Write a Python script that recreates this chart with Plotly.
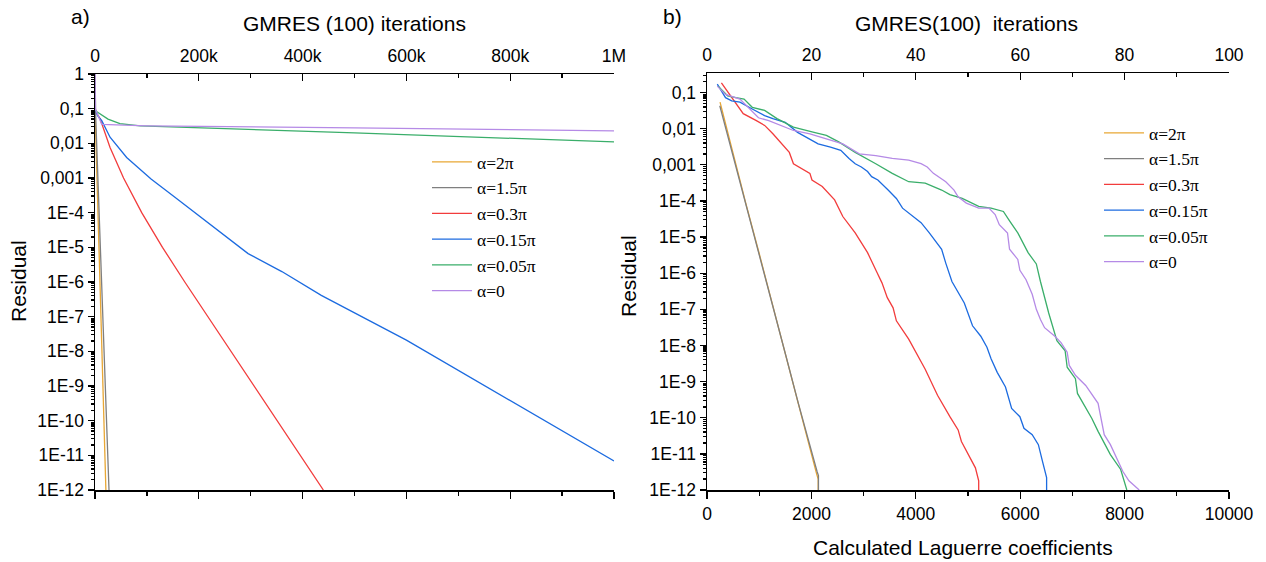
import plotly.graph_objects as go

# ---------------- data: panel a) (GMRES(100) iterations vs residual) ----------------
a_2pi_x = [0, 21000]
a_2pi_y = [0.1, 1e-12]
a_15pi_x = [0, 1500, 27000]
a_15pi_y = [1.0, 0.05, 1e-12]
a_03pi_x = [0, 4000, 10000, 20000, 29000, 55000, 90000, 130000, 173000, 440000]
a_03pi_y = [0.1, 0.071, 0.05, 0.018, 7.6e-3, 1e-3, 1e-4, 1e-5, 1e-6, 1e-12]
a_015pi_x = [0, 5000, 13000, 29000, 61000, 108000, 154000, 224000, 295000, 360000, 436000, 600000, 1000000]
a_015pi_y = [0.1, 0.063, 0.045, 0.015, 3.9e-3, 9.3e-4, 2.8e-4, 4.3e-5, 6.6e-6, 2.0e-6, 4.1e-7, 2.1e-8, 6.9e-12]
a_005pi_x = [0, 10000, 25000, 48000, 87000, 500000, 1000000]
a_005pi_y = [0.089, 0.069, 0.05, 0.037, 0.032, 0.02, 0.011]
a_0_x = [0, 500, 13000, 100000, 500000, 1000000]
a_0_y = [1.0, 0.1, 0.035, 0.032, 0.028, 0.023]

# ---------------- data: panel b) (Laguerre coefficients vs residual) ----------------
b_2pi_x = [250, 500, 750, 1000, 1250, 1500, 1750, 2000, 2100, 2130, 2130]
b_2pi_y = [0.054, 2.0e-3, 7.9e-5, 3.5e-6, 1.4e-7, 5.6e-9, 2.2e-10, 1e-11, 2.8e-12, 2.0e-12, 1e-12]
b_15pi_x = [245, 500, 750, 1000, 1250, 1500, 1750, 2000, 2110, 2135, 2135]
b_15pi_y = [0.043, 1.8e-3, 7.1e-5, 3.2e-6, 1.4e-7, 6.0e-9, 2.5e-10, 1.1e-11, 3.2e-12, 2.5e-12, 1e-12]
b_03pi_x = [276, 473, 694, 946, 1104, 1262, 1380, 1577, 1656, 1814, 1971, 2011, 2208, 2445, 2602,
            2839, 3076, 3250, 3352, 3454, 3565, 3628, 3864, 4180, 4416, 4653, 4811, 4874, 5008,
            5142, 5205, 5205]
b_03pi_y = [0.186, 0.072, 0.026, 0.0166, 0.0123, 0.0072, 0.0047, 0.0022, 0.00107, 7.9e-4, 5.8e-4,
            3.8e-4, 2.5e-4, 1.07e-4, 3.7e-5, 1.3e-5, 3.7e-6, 1.1e-6, 5.4e-7, 2.1e-7, 1.1e-7, 4.8e-8,
            1.5e-8, 2.2e-9, 4.2e-10, 1.07e-10, 4.6e-11, 2.2e-11, 9.5e-12, 4.1e-12, 1.8e-12, 1e-12]
b_015pi_x = [197, 355, 473, 631, 867, 1104, 1262, 1498, 1735, 1971, 2129, 2366, 2563, 2721, 2839,
             2957, 3076, 3154, 3273, 3470, 3628, 3746, 3943, 4101, 4259, 4495, 4574, 4653, 4692,
             4929, 4969, 5087, 5245, 5363, 5442, 5560, 5718, 5836, 5994, 6072, 6230, 6348, 6427,
             6506, 6506]
b_015pi_y = [0.17, 0.072, 0.059, 0.054, 0.035, 0.023, 0.019, 0.015, 0.0079, 0.0052, 0.0038, 0.0031,
             0.0025, 0.0015, 0.00107, 8.7e-4, 6.5e-4, 4.7e-4, 3.8e-4, 2.0e-4, 1.17e-4, 6.3e-5,
             3.7e-5, 2.5e-5, 1.3e-5, 4.6e-6, 1.9e-6, 9.3e-7, 5.9e-7, 1.5e-7, 1.0e-7, 3.5e-8,
             1.8e-8, 8.9e-9, 4.3e-9, 1.8e-9, 7.1e-10, 1.8e-10, 1.07e-10, 5.1e-11, 3.4e-11,
             1.8e-11, 6.2e-12, 2.2e-12, 1e-12]
b_005pi_x = [213, 394, 552, 710, 867, 1104, 1341, 1656, 2050, 2287, 2524, 2839, 3233, 3549, 3864,
             4180, 4495, 4653, 4889, 5205, 5442, 5678, 5796, 5954, 6151, 6309, 6388, 6546, 6703,
             6861, 6900, 7058, 7097, 7373, 7492, 7728, 7925, 8043]
b_005pi_y = [0.15, 0.081, 0.072, 0.066, 0.039, 0.032, 0.019, 0.011, 0.0079, 0.0065, 0.0043, 0.0022,
             0.00107, 5.8e-4, 3.4e-4, 3.1e-4, 2.0e-4, 1.5e-4, 1.17e-4, 7.1e-5, 6.3e-5, 5.1e-5,
             2.8e-5, 1.3e-5, 3.7e-6, 1.8e-6, 5.9e-7, 7.9e-8, 1.35e-8, 7.1e-9, 2.5e-9, 1.2e-9,
             4.7e-10, 9.5e-11, 4.2e-11, 9.5e-12, 3.7e-12, 1e-12]
b_0_x = [197, 355, 631, 789, 986, 1183, 1420, 1656, 1971, 2287, 2602, 2918, 3233, 3549, 3864, 4101,
         4219, 4337, 4574, 4732, 4811, 4968, 5205, 5402, 5520, 5600, 5757, 5796, 5954, 5994, 6112,
         6230, 6309, 6388, 6467, 6664, 6782, 6900, 6940, 7058, 7255, 7492, 7610, 7728, 7846, 7965,
         8083, 8240, 8280]
b_0_y = [0.15, 0.089, 0.066, 0.039, 0.020, 0.0166, 0.0123, 0.0089, 0.0072, 0.0052, 0.0038, 0.0020,
         0.0018, 0.0015, 0.00135, 0.00107, 8.7e-4, 5.8e-4, 3.4e-4, 2.0e-4, 1.3e-4, 8.7e-5, 6.3e-5,
         6.3e-5, 4.2e-5, 2.2e-5, 1.3e-5, 4.6e-6, 2.4e-6, 1.2e-6, 6.6e-7, 2.6e-7, 1.0e-7, 5.2e-8,
         3.1e-8, 1.8e-8, 1.2e-8, 6.5e-9, 2.8e-9, 1.5e-9, 7.8e-10, 2.5e-10, 3.4e-11, 1.8e-11,
         7.8e-12, 3.3e-12, 1.8e-12, 1.15e-12, 1e-12]

names = ["α=2π", "α=1.5π", "α=0.3π", "α=0.15π", "α=0.05π", "α=0"]
colors = ["#E8A735", "#7F7F7F", "#F23C3C", "#1C6BE0", "#3AAE6A", "#B58AE6"]

# tick labels
y_tickvals = [1, 0.1, 0.01, 0.001, 1e-4, 1e-5, 1e-6, 1e-7, 1e-8, 1e-9, 1e-10, 1e-11, 1e-12]
y_ticktext = ["1", "0,1", "0,01", "0,001", "1E-4", "1E-5", "1E-6", "1E-7", "1E-8", "1E-9",
              "1E-10", "1E-11", "1E-12"]
a_top_vals = [0, 200000, 400000, 600000, 800000, 1000000]
a_top_text = ["0", "200k", "400k", "600k", "800k", "1M"]
a_minor_vals = [100000, 300000, 500000, 700000, 900000]
b_bot_vals = [0, 2000, 4000, 6000, 8000, 10000]
b_bot_text = ["0", "2000", "4000", "6000", "8000", "10000"]
b_bot_minor = [1000, 3000, 5000, 7000, 9000]
b_top_vals = [0, 20, 40, 60, 80, 100]
b_top_text = ["0", "20", "40", "60", "80", "100"]
b_top_minor = [10, 30, 50, 70, 90]

y_minor = [m * 10.0 ** e for e in range(-12, 0) for m in range(2, 10)]

FONT = "Liberation Sans, Arial, sans-serif"
SERIF = "Liberation Serif, Times New Roman, serif"
W, H = 1266, 562

fig = go.Figure()

a_series = [(a_2pi_x, a_2pi_y), (a_15pi_x, a_15pi_y), (a_03pi_x, a_03pi_y),
            (a_015pi_x, a_015pi_y), (a_005pi_x, a_005pi_y), (a_0_x, a_0_y)]
b_series = [(b_2pi_x, b_2pi_y), (b_15pi_x, b_15pi_y), (b_03pi_x, b_03pi_y),
            (b_015pi_x, b_015pi_y), (b_005pi_x, b_005pi_y), (b_0_x, b_0_y)]

for (x, y), n, c in zip(a_series, names, colors):
    fig.add_trace(go.Scatter(x=x, y=y, mode="lines", name=n, line=dict(color=c, width=1.3),
                             xaxis="x", yaxis="y", legend="legend"))
for (x, y), n, c in zip(b_series, names, colors):
    fig.add_trace(go.Scatter(x=x, y=y, mode="lines", name=n, line=dict(color=c, width=1.3),
                             xaxis="x3", yaxis="y2", legend="legend2"))

# empty helper traces so that the secondary (top) axes get drawn
fig.add_trace(go.Scatter(x=a_top_vals, y=[None] * len(a_top_vals), mode="lines", xaxis="x2",
                         yaxis="y", showlegend=False, hoverinfo="skip"))
fig.add_trace(go.Scatter(x=b_top_vals, y=[None] * len(b_top_vals), mode="lines", xaxis="x4",
                         yaxis="y2", showlegend=False, hoverinfo="skip"))

axis_common = dict(showline=True, linecolor="black", linewidth=1.5, showgrid=False,
                   zeroline=False, tickcolor="black", tickwidth=1.3, automargin=False,
                   tickfont=dict(family=FONT, size=17.5, color="black"))

dom_a = [95 / W, 614 / W]
dom_b = [707 / W, 1229 / W]
ydom_a = [1 - 490 / H, 1 - 74 / H]
ydom_b = [1 - 490 / H, 1 - 73 / H]

def ann(text, x, y, size=21, angle=0):
    return dict(text=text, x=x / W, y=1 - y / H, xref="paper", yref="paper", showarrow=False,
                font=dict(family=FONT, size=size, color="black"), xanchor="center",
                yanchor="middle", textangle=angle)

fig.update_layout(
    width=W, height=H,
    margin=dict(l=0, r=0, t=0, b=0),
    paper_bgcolor="white", plot_bgcolor="white",
    hovermode=False, dragmode=False,
    font=dict(family=FONT, size=17, color="black"),
    xaxis=dict(domain=dom_a, range=[0, 1000000], anchor="y", ticks="outside", ticklen=7,
               tickvals=a_top_vals, showticklabels=False,
               minor=dict(ticks="outside", ticklen=4, tickvals=a_minor_vals, tickcolor="black"),
               **axis_common),
    xaxis2=dict(domain=dom_a, range=[0, 1000000], anchor="y", overlaying="x", side="top",
                ticks="inside", ticklen=7, tickvals=a_top_vals, ticktext=a_top_text,
                ticklabelstandoff=4,
                minor=dict(ticks="inside", ticklen=4, tickvals=a_minor_vals, tickcolor="black"),
                **axis_common),
    yaxis=dict(domain=ydom_a, type="log", range=[-12, 0], anchor="x",
               ticks="outside", ticklen=6, tickvals=y_tickvals, ticktext=y_ticktext,
               minor=dict(ticks="outside", ticklen=3, tickvals=y_minor, tickcolor="black"),
               **axis_common),
    xaxis3=dict(domain=dom_b, range=[0, 10000], anchor="y2", ticks="outside", ticklen=7,
                tickvals=b_bot_vals, ticktext=b_bot_text,
                minor=dict(ticks="outside", ticklen=4, tickvals=b_bot_minor, tickcolor="black"),
                **axis_common),
    xaxis4=dict(domain=dom_b, range=[0, 100], anchor="y2", overlaying="x3", side="top",
                ticks="inside", ticklen=7, tickvals=b_top_vals, ticktext=b_top_text,
                ticklabelstandoff=4,
                minor=dict(ticks="inside", ticklen=4, tickvals=b_top_minor, tickcolor="black"),
                **axis_common),
    yaxis2=dict(domain=ydom_b, type="log", range=[-12, -0.46], anchor="x3",
                ticks="outside", ticklen=6, tickvals=y_tickvals, ticktext=y_ticktext,
                minor=dict(ticks="outside", ticklen=3, tickvals=y_minor, tickcolor="black"),
                **axis_common),
    legend=dict(x=427 / W, y=1 - 144 / H, xanchor="left", yanchor="top",
                bgcolor="rgba(0,0,0,0)", font=dict(family=SERIF, size=17.5, color="black"),
                tracegroupgap=0, itemwidth=40),
    legend2=dict(x=1099 / W, y=1 - 115 / H, xanchor="left", yanchor="top",
                 bgcolor="rgba(0,0,0,0)", font=dict(family=SERIF, size=17.5, color="black"),
                 tracegroupgap=0, itemwidth=40),
    annotations=[
        ann("a)", 80, 16),
        ann("b)", 672, 16),
        ann("GMRES (100) iterations", 354, 24),
        ann("GMRES(100)\u00a0\u00a0iterations", 966, 24),
        ann("Residual", 18, 281, angle=-90),
        ann("Residual", 628, 276, angle=-90),
        ann("Calculated Laguerre coefficients", 963, 547),
    ],
)

fig.write_html("out.html", config={"displayModeBar": False, "staticPlot": True},
               post_script="document.body.style.margin='0';document.body.style.padding='0';")
